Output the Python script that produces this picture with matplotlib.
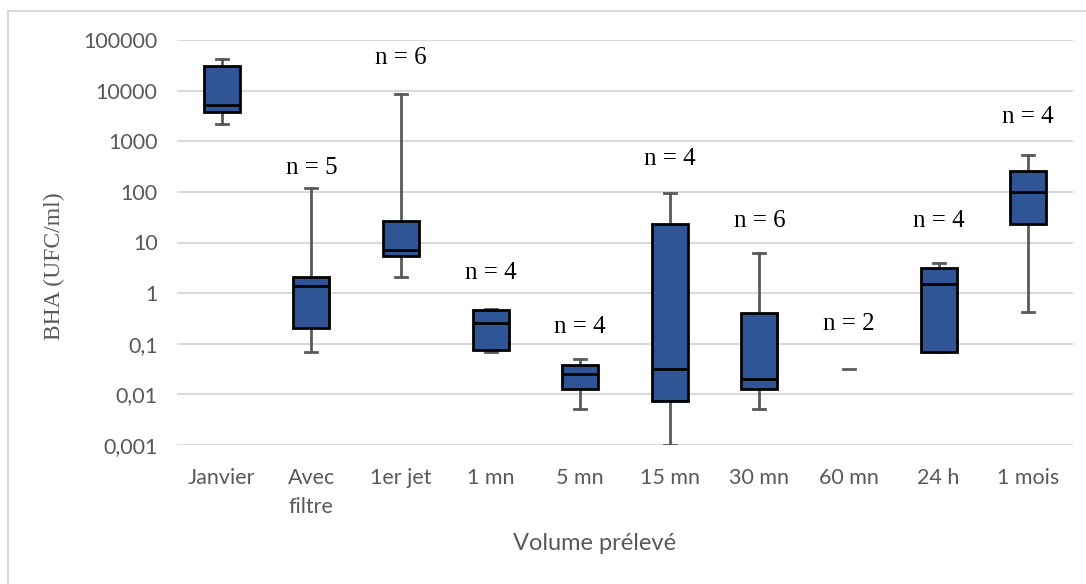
import numpy as np
import matplotlib
matplotlib.use("Agg")
import matplotlib.pyplot as plt
from matplotlib.patches import Rectangle

# ---------------------------------------------------------------
# data
# ---------------------------------------------------------------
categories = ["Janvier", "Avec\nfiltre", "1er jet", "1 mn", "5 mn",
              "15 mn", "30 mn", "60 mn", "24 h", "1 mois"]
whis_low = [2200, 0.069, 2.1, 0.069, 0.0051, 0.001, 0.0051, 0.031, 0.068, 0.43]
q1 = [3800, 0.204, 5.5, 0.076, 0.0126, 0.0074, 0.0126, 0.031, 0.068, 23.3]
median = [5200, 1.41, 7.1, 0.26, 0.025, 0.031, 0.0204, 0.031, 1.5, 101]
q3 = [31000, 2.05, 27, 0.46, 0.038, 23.3, 0.40, 0.031, 3.1, 264]
whis_high = [42700, 118, 8500, 0.49, 0.050, 97, 6.1, 0.031, 3.9, 545]
n_obs = [None, 5, 6, 4, 4, 4, 6, 2, 4, 4]
n_label_y = [None, 290, 45000, 2.45, 0.21, 440, 27, 0.25, 26, 2950]

y_ticks = [0.001, 0.01, 0.1, 1, 10, 100, 1000, 10000, 100000]
y_tick_labels = ["0,001", "0,01", "0,1", "1", "10", "100", "1000", "10000", "100000"]

BOX_BLUE = "#2F5597"
GREY_TXT = "#595959"
GRID = "#D9D9D9"

plt.rcParams.update({
    "font.family": ["Lato", "DejaVu Sans"],
})

W, H = 1086, 584
fig = plt.figure(figsize=(W / 100, H / 100), dpi=100)
fig.patch.set_facecolor("white")

# chart-area frame (only top/left show in the crop)
fig.patches.append(Rectangle((8 / W, 0 - 0.1), 1.2, 1 - 11 / H + 0.1,
                             transform=fig.transFigure, fill=False,
                             edgecolor=GRID, linewidth=1.5))

ax = fig.add_axes([177 / W, 1 - 445 / H, (1073 - 177) / W, 405 / H])

stats = []
for i in range(len(categories)):
    stats.append(dict(whislo=whis_low[i], q1=q1[i], med=median[i],
                      q3=q3[i], whishi=whis_high[i], fliers=[]))

pos = np.arange(len(categories))
art = ax.bxp(stats, positions=pos, widths=0.40, capwidths=0.135,
             patch_artist=True, showfliers=False,
             boxprops=dict(facecolor=BOX_BLUE, edgecolor="black", linewidth=2.0),
             medianprops=dict(color="black", linewidth=2.0),
             whiskerprops=dict(color=GREY_TXT, linewidth=2.0),
             capprops=dict(color=GREY_TXT, linewidth=2.0))

# 60 mn: all values identical -> only the grey dash remains
for i in range(len(categories)):
    if q1[i] == q3[i]:
        art["boxes"][i].set_visible(False)
        art["medians"][i].set_visible(False)
        art["caps"][2 * i + 1].set_visible(False)

for w in art["whiskers"] + art["caps"]:
    w.set_zorder(1.5)

for i, (n, yl) in enumerate(zip(n_obs, n_label_y)):
    if n is None:
        continue
    ax.text(pos[i], yl, f"n = {n}", ha="center", va="center",
            fontsize=18, family="Liberation Serif", color="black")

ax.set_yscale("log")
ax.set_ylim(0.001, 100000)
ax.set_xlim(-0.5, len(categories) - 0.5)
ax.set_yticks(y_ticks)
ax.set_yticklabels(y_tick_labels)
ax.yaxis.set_minor_locator(matplotlib.ticker.NullLocator())
ax.set_xticks(pos)
ax.set_xticklabels(categories, linespacing=1.55)
ax.tick_params(axis="both", length=0, labelsize=15.5, colors=GREY_TXT)
ax.tick_params(axis="y", pad=14)
ax.tick_params(axis="x", pad=16.5)
for lab in ax.get_xticklabels():
    lab.set_verticalalignment("top")

ax.grid(True, axis="y", color=GRID, linewidth=1.5)
ax.set_axisbelow(True)
for s in ax.spines.values():
    s.set_visible(False)

fig.text(54 / W, 1 - 266 / H, "BHA (UFC/ml)", rotation=90, ha="center", va="center",
         fontsize=17, family="Liberation Serif", color=GREY_TXT)
fig.text(595 / W, 1 - 543 / H, "Volume prélevé", ha="center", va="center",
         fontsize=17, color=GREY_TXT)

fig.savefig("out.png", dpi=100)
